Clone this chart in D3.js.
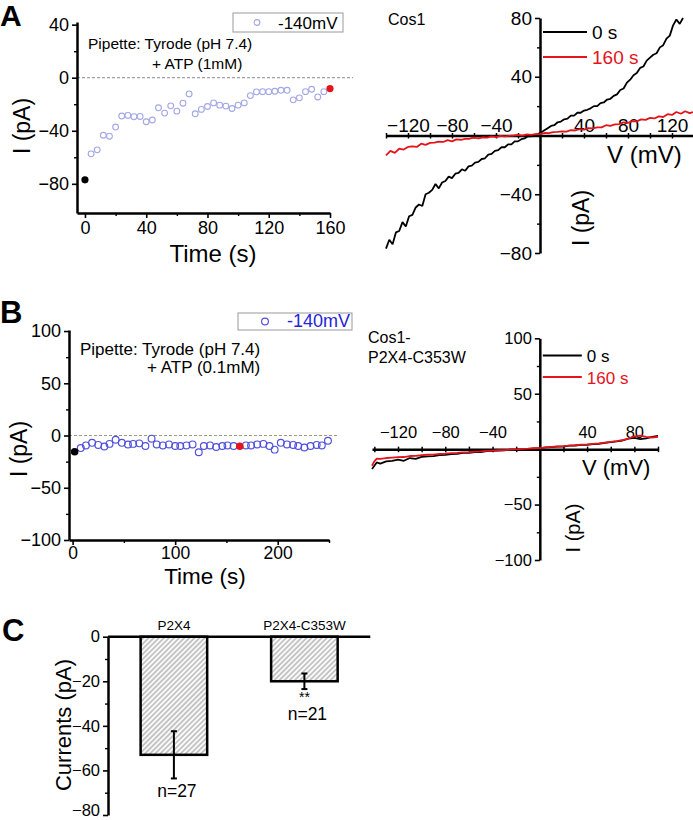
<!DOCTYPE html>
<html><head><meta charset="utf-8">
<script src="https://cdn.jsdelivr.net/npm/d3@7"></script>
<style>body{margin:0;background:#fff}svg text{font-family:"Liberation Sans",Arial,Helvetica,sans-serif}</style>
</head><body>
<svg id="c" width="693" height="820"></svg>
<script>
// ---------- DATA ----------
// Panel A (left): current at -140 mV vs time, 1 mM ATP
const timeA = [4,8,12,16,20,24,28,32,36,40,44,48,52,56,60,64,68,72,76,80,84,88,92,96,100,104,108,112,116,120,124,128,132,136,140,144,148,152,156];
const currentA = [-57.4,-54.4,-43.4,-44.1,-37.2,-28.9,-28.4,-29.4,-29.2,-33.2,-31.9,-22.7,-26.7,-21.2,-25.2,-19.2,-12.2,-27.2,-23.9,-21.7,-19.0,-20.7,-21.4,-23.2,-20.7,-19.0,-13.5,-10.7,-10.5,-10.5,-10.2,-9.5,-9.5,-16.7,-15.2,-10.5,-8.7,-14.5,-10.5];
const markerTimesA = [0,160];
const markerValuesA = [-77,-8.2];
const yTicksA = [-80,-40,0,40];
const yMinorA = [-60,-20,20];
const xTicksA = [0,40,80,120,160];
const xMinorA = [20,60,100,140];

// Panel B (left): current at -140 mV vs time, 0.1 mM ATP
const timeB = [8,13,19,25,31,36,42,48,54,59,65,71,77,82,88,94,100,105,111,117,123,128,134,140,146,151,157,169,174,180,186,192,197,203,209,215,220,226,232,238,243,249];
const currentB = [-12,-9.5,-7,-9,-10.5,-8,-4,-7,-8.6,-8,-7.5,-10,-3,-8.5,-9.5,-8.5,-10,-10,-9.5,-8.5,-16,-10,-9.5,-11,-10,-9.5,-10,-9.5,-9.5,-8.5,-8,-10,-13.5,-7,-8.5,-9,-10,-11.5,-10,-9,-9.5,-5];
const markerTimesB = [2,163];
const markerValuesB = [-15.6,-10.2];
const yTicksB = [-100,-50,0,50,100];
const yMinorB = [-75,-25,25,75];
const xTicksB = [0,100,200];
const xMinorB = [50,150,250];

// Panel A (right): I-V traces Cos1
const ivA0V = [-140,-137,-134,-131,-128,-125,-122,-119,-116,-113,-110,-107,-104,-101,-98,-95,-92,-89,-86,-83,-80,-77,-74,-71,-68,-65,-62,-59,-56,-53,-50,-47,-44,-41,-38,-35,-32,-29,-26,-23,-20,-17,-14,-11,-8,-5,-2,1,4,7,10,13,16,19,22,25,28,31,34,37,40,43,46,49,52,55,58,61,64,67,70,73,76,79,82,85,88,91,94,97,100,103,106,109,112,115,118,121,124,127,130];
const ivA0I = [-77,-71,-74,-66,-65,-59,-62,-55,-54,-49,-47,-48,-40,-39,-37,-33,-36,-32,-31,-28,-29,-26,-25.5,-23,-24,-21,-20.5,-18.5,-18,-16,-15.5,-13,-12.5,-10.5,-10,-8,-8,-6,-6,-4,-4,-2.5,-2,-0.5,-0.5,0.5,1,2,3.5,5,6.5,7,9,9.5,11,11.5,13.5,13.5,15.5,15.5,17,17.5,18.5,20,20,22,22.5,24.5,25,27,28,31,32,36,38,41,42.5,46,47,51,53,55,56,60,61.5,66,68,75,79,76,80];
const ivA160V = [-140,-136,-132,-128,-124,-120,-116,-112,-108,-104,-100,-96,-92,-88,-84,-80,-76,-72,-68,-64,-60,-56,-52,-48,-44,-40,-36,-32,-28,-24,-20,-16,-12,-8,-4,0,4,8,12,16,20,24,28,32,36,40,44,48,52,56,60,64,68,72,76,80,84,88,92,96,100,104,108,112,116,120,124,128,132,136,139];
const ivA160I = [-13.5,-10.5,-11.8,-9,-9.6,-7.8,-7.4,-7.8,-5.6,-6.4,-5,-4.8,-4.2,-4.4,-3.2,-4,-2.6,-2.9,-2.3,-2.2,-1.4,-1.9,-1.2,-1.5,-0.6,-1.1,-0.3,-0.6,-0.2,0,0.4,-0.1,0.7,0.4,1,1,1.7,1.6,2.3,2.4,2.8,2.7,3.6,3.4,4.3,4,5,4.8,5.6,5.5,7,6.6,7.6,7.7,9,8.6,9.8,9.6,11,10.6,12,11.6,13,12.6,14.5,14,16,14.8,16.5,15.2,16];

// Panel B (right): I-V traces Cos1-P2X4-C353W
const ivB0V = [-142,-140,-138,-135,-130,-125,-120,-115,-110,-105,-100,-95,-90,-85,-80,-75,-70,-65,-60,-55,-50,-45,-40,-35,-30,-25,-20,-15,-10,-5,0,5,10,15,20,25,30,35,40,45,50,55,60,65,70,75,80,85,90,95,100];
const ivB0I = [-18,-15,-12,-13,-11,-10.5,-9.5,-10.5,-8,-8.8,-7,-6.6,-6.2,-5.4,-5.2,-4.4,-4.3,-3.4,-3.3,-2.6,-2.7,-1.7,-1.6,-1.2,-1.1,-0.4,-0.4,0.1,0.1,0.6,0.7,1.6,1.8,2.3,2.4,3.1,3.3,3.9,3.9,4.6,4.8,5.6,6.3,7,7.8,9.4,10.2,9,9.8,11,12];
const ivB160V = [-142,-140,-138,-135,-130,-125,-120,-115,-110,-105,-100,-95,-90,-85,-80,-75,-70,-65,-60,-55,-50,-45,-40,-35,-30,-25,-20,-15,-10,-5,0,5,10,15,20,25,30,35,40,45,50,55,60,65,70,75,80,85,90,95,100];
const ivB160I = [-15,-11,-8.5,-8.8,-8,-7.6,-7.2,-7.1,-6.2,-6,-5.5,-5,-4.9,-4.2,-4,-3.6,-3.3,-2.9,-2.6,-2.2,-2,-1.6,-1.3,-1,-0.8,-0.4,-0.2,0.2,0.4,0.8,1,1.6,2,2.4,2.7,3.2,3.5,4,4.3,4.8,5.2,5.9,6.6,7.3,8.2,9.6,11.5,12.3,11,10.5,11];
const ivTicksA = [-120,-80,-40,40,80,120];
const ivMinorXA = [-140,-100,-60,-20,20,60,100,140];
const ivYTicksA = [-80,-40,40,80];
const ivYMinorA = [-60,-20,20,60];
const ivTicksB = [-120,-80,-40,40,80];
const ivMinorXB = [-140,-100,-60,-20,20,60,100];
const ivYTicksB = [-100,-50,50,100];
const ivYMinorB = [-75,-25,25,75];
const traceLabels = ["0 s","160 s"];

// Panel C: bar chart
const categoriesC = ["P2X4","P2X4-C353W"];
const meansC = [-53,-20];
const semsC = [10.6,3.5];
const nC = [27,21];
const sigC = ["","**"];
const yTicksC = [-80,-60,-40,-20,0];
const yMinorC = [-70,-50,-30,-10];

// ---------- DRAWING ----------
const svg = d3.select("#c");
const AX = 2.5;
const RED = "#e3141b";
const LIGHTBLUE = "#a3a8e6";
const BLUE = "#4f4fdc";

function clean(g, fs){
  g.attr("font-size", fs).attr("font-family", null);
  g.select(".domain").attr("stroke-width", AX).attr("stroke","#000");
  g.selectAll(".tick line").attr("stroke-width", 1.6).attr("stroke","#000");
  g.selectAll(".tick text").attr("fill","#000");
}
function minor(g){ g.select(".domain").remove(); g.selectAll(".tick line").attr("stroke-width",1.4).attr("stroke","#000"); }
function txt(x,y,s,fs,opt={}){
  const t = svg.append("text").attr("x",x).attr("y",y).attr("font-size",fs).text(s);
  if(opt.anchor) t.attr("text-anchor",opt.anchor);
  if(opt.bold) t.attr("font-weight","bold");
  if(opt.fill) t.attr("fill",opt.fill);
  return t;
}
function rtxt(x,y,s,fs){
  return svg.append("text").attr("transform",`translate(${x},${y}) rotate(-90)`).attr("text-anchor","middle").attr("font-size",fs).text(s);
}

// ===== Panel A left =====
{
  const x = d3.scaleLinear().domain([-5.2,160]).range([77,330]);
  const y = d3.scaleLinear().domain([-102,42]).range([213,22]);
  const g = svg.append("g");
  g.append("line").attr("x1",x(-5.2)).attr("x2",x(175)).attr("y1",y(0)).attr("y2",y(0))
    .attr("stroke","#8a8a8a").attr("stroke-width",1).attr("stroke-dasharray","3,2");
  g.append("g").attr("transform",`translate(${x(-5.2)},0)`).call(d3.axisLeft(y).tickValues(yMinorA).tickSize(3).tickFormat("")).call(minor);
  g.append("g").attr("transform",`translate(${x(-5.2)},0)`).call(d3.axisLeft(y).tickValues(yTicksA).tickSize(5).tickPadding(3).tickSizeOuter(0)).call(s=>clean(s,18));
  g.append("g").attr("transform",`translate(0,${y(-102)})`).call(d3.axisBottom(x).tickValues(xMinorA).tickSize(3).tickFormat("")).call(minor);
  g.append("g").attr("transform",`translate(0,${y(-102)})`).call(d3.axisBottom(x).tickValues(xTicksA).tickSize(5).tickPadding(3).tickSizeOuter(0)).call(s=>clean(s,18));
  g.selectAll("circle.o").data(timeA).join("circle").attr("class","o")
    .attr("cx",(d)=>x(d)).attr("cy",(d,i)=>y(currentA[i])).attr("r",2.9)
    .attr("fill","none").attr("stroke",LIGHTBLUE).attr("stroke-width",1.1);
  g.selectAll("circle.f").data(markerTimesA).join("circle").attr("class","f")
    .attr("cx",d=>x(d)).attr("cy",(d,i)=>y(markerValuesA[i])).attr("r",3.6)
    .attr("fill",(d,i)=>i===0?"#000":RED);
  g.append("rect").attr("x",233).attr("y",13).attr("width",110).attr("height",19).attr("fill","#fff").attr("stroke","#9a9a9a").attr("stroke-width",1);
  g.append("circle").attr("cx",257).attr("cy",22.5).attr("r",2.9).attr("fill","none").attr("stroke",LIGHTBLUE).attr("stroke-width",1.1);
  txt(278,29,"-140mV",17);
  txt(88,49,"Pipette: Tyrode (pH 7.4)",15.5);
  txt(152,69,"+ ATP (1mM)",15.5);
  txt(213,262,"Time (s)",24,{anchor:"middle"});
  rtxt(30,126,"I (pA)",23);
  txt(0,26,"A",30,{bold:true});
}

// ===== Panel B left =====
{
  const x = d3.scaleLinear().domain([-3.5,250]).range([69,329]);
  const y = d3.scaleLinear().domain([-100,101]).range([540,330]);
  const g = svg.append("g");
  g.append("line").attr("x1",x(-3.5)).attr("x2",x(258)).attr("y1",y(0)).attr("y2",y(0))
    .attr("stroke","#9a9a80").attr("stroke-width",1).attr("stroke-dasharray","3,2");
  g.append("g").attr("transform",`translate(${x(-3.5)},0)`).call(d3.axisLeft(y).tickValues(yMinorB).tickSize(3).tickFormat("")).call(minor);
  g.append("g").attr("transform",`translate(${x(-3.5)},0)`).call(d3.axisLeft(y).tickValues(yTicksB).tickSize(5).tickPadding(3).tickSizeOuter(0)).call(s=>clean(s,18));
  g.append("g").attr("transform",`translate(0,${y(-100)})`).call(d3.axisBottom(x).tickValues(xMinorB).tickSize(3).tickFormat("")).call(minor);
  g.append("g").attr("transform",`translate(0,${y(-100)})`).call(d3.axisBottom(x).tickValues(xTicksB).tickSize(5).tickPadding(2).tickSizeOuter(0)).call(s=>clean(s,17.5));
  g.selectAll("circle.o").data(timeB).join("circle").attr("class","o")
    .attr("cx",d=>x(d)).attr("cy",(d,i)=>y(currentB[i])).attr("r",3.4)
    .attr("fill","none").attr("stroke",BLUE).attr("stroke-width",1.15);
  g.selectAll("circle.f").data(markerTimesB).join("circle").attr("class","f")
    .attr("cx",d=>x(d)).attr("cy",(d,i)=>y(markerValuesB[i])).attr("r",3.8)
    .attr("fill",(d,i)=>i===0?"#000":RED);
  g.append("rect").attr("x",238).attr("y",313).attr("width",114).attr("height",17).attr("fill","#fff").attr("stroke","#9a9a9a").attr("stroke-width",1);
  g.append("circle").attr("cx",265).attr("cy",321.5).attr("r",3.4).attr("fill","none").attr("stroke",BLUE).attr("stroke-width",1.15);
  txt(287,327,"-140mV",18,{fill:"#2424d8"});
  txt(80,355,"Pipette: Tyrode (pH 7.4)",17);
  txt(147,373,"+ ATP (0.1mM)",17);
  txt(205,584,"Time (s)",22.5,{anchor:"middle"});
  rtxt(27,449,"I (pA)",23);
  txt(0,323,"B",31,{bold:true});
}

// ===== I-V panels =====
function ivPanel(cfg){
  const x = d3.scaleLinear().domain(cfg.xd).range(cfg.xr);
  const y = d3.scaleLinear().domain(cfg.yd).range(cfg.yr);
  const g = svg.append("g");
  g.append("g").attr("transform",`translate(${x(0)},0)`).call(d3.axisLeft(y).tickValues(cfg.yMinor).tickSize(3).tickFormat("")).call(minor);
  g.append("g").attr("transform",`translate(${x(0)},0)`).call(d3.axisLeft(y).tickValues(cfg.yTicks).tickSize(5).tickPadding(3).tickSizeOuter(0)).call(s=>clean(s,cfg.fs));
  const xa = g.append("g").attr("transform",`translate(0,${y(0)})`);
  xa.append("g").call(d3.axisBottom(x).tickValues(cfg.xMinor.concat(cfg.xTicks)).tickSize(3).tickFormat("").tickSizeOuter(0))
    .call(s=>{ s.select(".domain").attr("stroke-width",AX).attr("stroke","#000"); s.selectAll(".tick line").attr("y1",-2.5).attr("y2",3).attr("stroke","#000").attr("stroke-width",1.5); });
  xa.append("g").call(d3.axisTop(x).tickValues(cfg.xTicks).tickSize(0).tickPadding(cfg.lblPad))
    .call(s=>{ s.select(".domain").remove(); s.attr("font-size",cfg.fs).attr("font-family",null); s.selectAll("text").attr("fill","#000"); });
  const line = d3.line().x(d=>x(d[0])).y(d=>y(d[1]));
  const tr = [[cfg.v0,cfg.i0,"#000"],[cfg.v1,cfg.i1,RED]];
  tr.forEach(([v,c,col])=>{
    g.append("path").datum(v.map((d,i)=>[d,c[i]])).attr("d",line).attr("fill","none")
      .attr("stroke",col).attr("stroke-width",1.8).attr("stroke-linejoin","bevel");
  });
  cfg.leg.forEach((ly,i)=>{
    g.append("line").attr("x1",x(0)+3).attr("x2",x(0)+cfg.legLen).attr("y1",ly).attr("y2",ly).attr("stroke",i?RED:"#000").attr("stroke-width",2);
    txt(x(0)+cfg.legLen+5,ly+6.5,traceLabels[i],cfg.legFs,{fill:i?RED:"#000"});
  });
  return {x,y};
}
ivPanel({xd:[-140,140],xr:[386,694],yd:[-80,80],yr:[253,18],yTicks:ivYTicksA,yMinor:ivYMinorA,xTicks:ivTicksA,xMinor:ivMinorXA,
  fs:19,lblPad:4,v0:ivA0V,i0:ivA0I,v1:ivA160V,i1:ivA160I,leg:[32,57],legLen:47,legFs:19});
txt(607,163,"V (mV)",24);
rtxt(589,218,"I (pA)",23);
txt(388,25,"Cos1",16);

ivPanel({xd:[-142,100],xr:[372,658],yd:[-100,100],yr:[560,338.3],yTicks:ivYTicksB,yMinor:ivYMinorB,xTicks:ivTicksB,xMinor:ivMinorXB,
  fs:16.5,lblPad:11,v0:ivB0V,i0:ivB0I,v1:ivB160V,i1:ivB160I,leg:[355.5,377],legLen:42,legFs:17});
txt(582,475,"V (mV)",22);
rtxt(580,528,"I (pA)",20);
txt(368,343,"Cos1-",16);
txt(368,363,"P2X4-C353W",16);

// ===== Panel C =====
{
  const defs = svg.append("defs");
  const p = defs.append("pattern").attr("id","hatch").attr("patternUnits","userSpaceOnUse")
    .attr("width",3.6).attr("height",3.6).attr("patternTransform","rotate(45)");
  p.append("rect").attr("width",3.6).attr("height",3.6).attr("fill","#fafafa");
  p.append("line").attr("x1",1.8).attr("x2",1.8).attr("y1",0).attr("y2",3.6).attr("stroke","#8c8c8c").attr("stroke-width",0.9);

  const x = d3.scaleBand().domain(categoriesC).range([108,370.3]).paddingInner(0.49).paddingOuter(0.25);
  const y = d3.scaleLinear().domain([-80,0]).range([815,636.7]);
  const g = svg.append("g");
  g.selectAll("rect.bar").data(categoriesC).join("rect").attr("class","bar")
    .attr("x",d=>x(d)).attr("width",x.bandwidth()).attr("y",y(0)).attr("height",(d,i)=>y(meansC[i])-y(0))
    .attr("fill","url(#hatch)").attr("stroke","#000").attr("stroke-width",AX);
  g.append("g").attr("transform",`translate(${x.range()[0]},0)`).call(d3.axisLeft(y).tickValues(yMinorC).tickSize(3).tickFormat("")).call(minor);
  g.append("g").attr("transform",`translate(${x.range()[0]},0)`).call(d3.axisLeft(y).tickValues(yTicksC).tickSize(5).tickPadding(3).tickSizeOuter(0))
    .call(s=>clean(s,16.5))
    .call(s=>s.selectAll(".tick text").filter(d=>d===yTicksC[0]).attr("dy","0.02em"));
  g.append("line").attr("x1",x.range()[0]).attr("x2",x.range()[1]).attr("y1",y(0)).attr("y2",y(0)).attr("stroke","#000").attr("stroke-width",AX);
  categoriesC.forEach((c,i)=>{
    const cx = x(c)+x.bandwidth()/2;
    const top = y(meansC[i]+semsC[i]), bot = y(meansC[i]-semsC[i]);
    g.append("line").attr("x1",cx).attr("x2",cx).attr("y1",top).attr("y2",bot).attr("stroke","#000").attr("stroke-width",2);
    [top,bot].forEach(yy=>g.append("line").attr("x1",cx-3).attr("x2",cx+3).attr("y1",yy).attr("y2",yy).attr("stroke","#000").attr("stroke-width",2));
    txt(cx,y(0)-6.5,c,13.5,{anchor:"middle"});
    if(sigC[i]){
      txt(cx,bot+13,sigC[i],14,{anchor:"middle"});
      txt(cx+3,bot+31,"n="+nC[i],17.5,{anchor:"middle"});
    } else {
      txt(cx+3,bot+19,"n="+nC[i],17.5,{anchor:"middle"});
    }
  });
  rtxt(71,725,"Currents (pA)",22);
  txt(2,641,"C",31,{bold:true});
}
</script>
</body></html>
